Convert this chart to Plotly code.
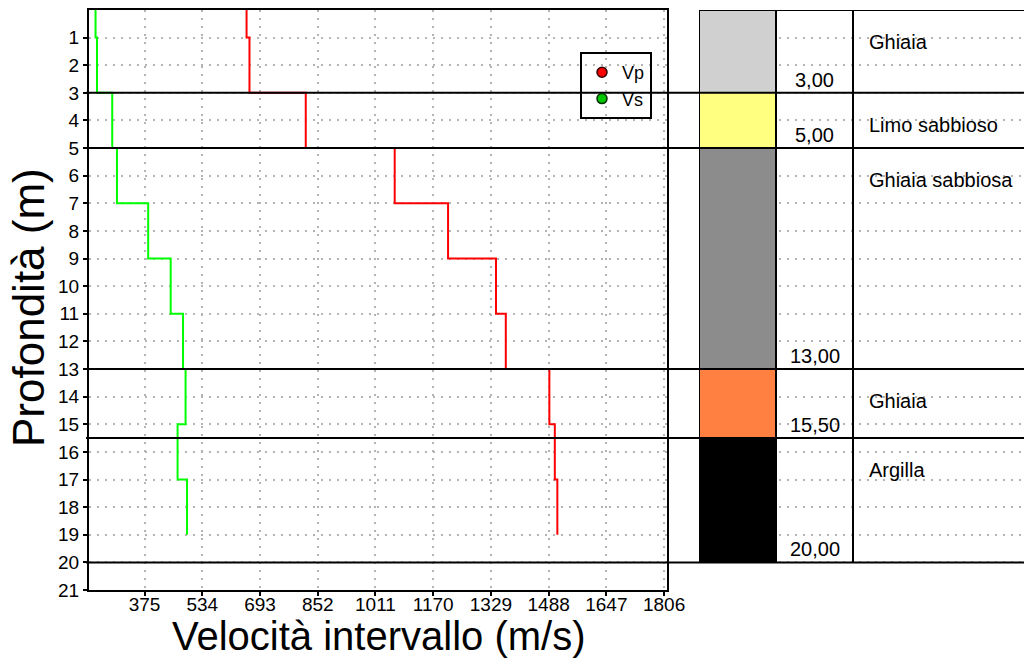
import numpy as np
import plotly.graph_objects as go

# Velocity profile (interval velocities per depth segment)
depth_top = [0, 1, 3, 5, 7, 9, 11, 13, 15, 17]
depth_end = 19
vp = [656, 664, 819, 1064, 1211, 1343, 1370, 1490, 1505, 1512]
vs = [240, 244, 286, 299, 385, 447, 481, 488, 466, 492]

# Stratigraphic column
layer_top = [0, 3, 5, 13, 15.5]
layer_bottom = [3, 5, 13, 15.5, 20]
layer_name = ["Ghiaia", "Limo sabbioso", "Ghiaia sabbiosa", "Ghiaia", "Argilla"]
layer_color = ["#d0d0d0", "#ffff80", "#8c8c8c", "#ff8040", "#000000"]

# Axis ticks
x_ticks = [375, 534, 693, 852, 1011, 1170, 1329, 1488, 1647, 1806]
y_ticks = list(range(1, 22))

W, H = 1024, 659
FONT = "Arial, Liberation Sans, sans-serif"


def px(x):
    return x / W


def py(y):
    return 1 - y / H


def step_path(values):
    xs = np.repeat(values, 2)
    bottoms = depth_top[1:] + [depth_end]
    ys = np.column_stack([depth_top, bottoms]).ravel()
    return xs, ys


fig = go.Figure()

vp_x, vp_y = step_path(vp)
vs_x, vs_y = step_path(vs)
fig.add_trace(go.Scatter(x=vp_x, y=vp_y, mode="lines", line=dict(color="#ff0000", width=2),
                         showlegend=False, name="Vp"))
fig.add_trace(go.Scatter(x=vs_x, y=vs_y, mode="lines", line=dict(color="#00ff00", width=2),
                         showlegend=False, name="Vs"))

# Legend entries with round markers
fig.add_trace(go.Scatter(x=[None], y=[None], mode="markers", name="Vp",
                         marker=dict(color="#ff0000", size=10, line=dict(color="#300000", width=1.5))))
fig.add_trace(go.Scatter(x=[None], y=[None], mode="markers", name="Vs",
                         marker=dict(color="#00c800", size=10, line=dict(color="#003000", width=1.5))))

# Coloured lithology column
thickness = [b - t for t, b in zip(layer_top, layer_bottom)]
fig.add_trace(go.Bar(x=[0.5] * len(layer_top), y=thickness, base=layer_top, width=1,
                     marker=dict(color=layer_color, line=dict(width=0)),
                     xaxis="x2", yaxis="y", showlegend=False, hoverinfo="skip"))

col_w = 77
x2_max = (W - 699) / col_w

shapes = []
# Layer boundaries across both panels
for b in layer_bottom:
    shapes.append(dict(type="line", xref="paper", yref="y", x0=px(86), x1=1, y0=b, y1=b,
                       line=dict(color="black", width=2)))
# Column separators and top border of the column panel
for xc in [0, 1, 2]:
    shapes.append(dict(type="line", xref="x2", yref="y", x0=xc, x1=xc, y0=0, y1=layer_bottom[-1],
                       line=dict(color="black", width=2)))
shapes.append(dict(type="line", xref="x2", yref="y", x0=0, x1=x2_max, y0=0, y1=0,
                   line=dict(color="black", width=2)))

annotations = []
for t, b, name in zip(layer_top, layer_bottom, layer_name):
    annotations.append(dict(xref="paper", yref="y", x=px(867), y=t + 1.15, text=name,
                            showarrow=False, xanchor="left", yanchor="middle",
                            font=dict(family=FONT, size=20, color="#000000")))
    annotations.append(dict(xref="x2", yref="y", x=1.5, y=b, text=f"{b:.2f}".replace(".", ","),
                            showarrow=False, xanchor="center", yanchor="bottom",
                            font=dict(family=FONT, size=20, color="#000000")))

annotations.append(dict(xref="paper", yref="paper", x=px(378), y=0,
                        text="Velocità intervallo (m/s)", showarrow=False,
                        xanchor="center", yanchor="bottom", borderpad=0,
                        font=dict(family=FONT, size=40, color="#000000")))
annotations.append(dict(xref="paper", yref="paper", x=px(29), y=py(308),
                        text="Profondità (m)", showarrow=False, textangle=-90,
                        xanchor="center", yanchor="middle",
                        font=dict(family=FONT, size=44, color="#000000")))

grid_style = dict(showgrid=True, gridcolor="#b4b4b4", griddash="2px,6px", gridwidth=1.5)

fig.update_layout(
    width=W, height=H,
    margin=dict(l=0, r=0, t=0, b=0),
    paper_bgcolor="white", plot_bgcolor="white",
    font=dict(family=FONT, color="#000000"),
    xaxis=dict(domain=[px(89), px(667)], range=[222, 1814], tickmode="array", tickvals=x_ticks,
               ticks="outside", ticklen=4, tickwidth=2, tickcolor="black", ticklabelstandoff=-8,
               showline=True, linecolor="black", linewidth=2, mirror=True,
               zeroline=False, automargin=False, tickfont=dict(size=19), anchor="y",
               **grid_style),
    yaxis=dict(domain=[py(590), py(10)], range=[21, 0], tickmode="array", tickvals=y_ticks,
               ticks="outside", ticklen=4, tickwidth=2, tickcolor="black",
               showline=True, linecolor="black", linewidth=2, mirror=True,
               zeroline=False, automargin=False, tickfont=dict(size=19), anchor="x",
               **grid_style),
    xaxis2=dict(domain=[px(699), 1], range=[0, x2_max], visible=False, anchor="y",
                fixedrange=True),
    legend=dict(x=px(580), y=py(52), xanchor="left", yanchor="top",
                bgcolor="rgba(0,0,0,0)", bordercolor="black", borderwidth=2,
                font=dict(family=FONT, size=18, color="#000000"), tracegroupgap=0),
    shapes=shapes,
    annotations=annotations,
    bargap=0,
)

fig.write_html("out.html")
